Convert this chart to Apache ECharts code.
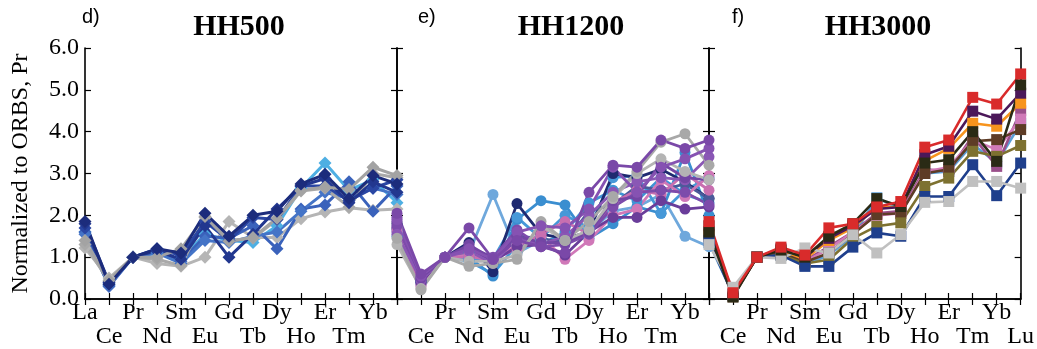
<!DOCTYPE html>
<html><head><meta charset="utf-8">
<script src="https://cdn.jsdelivr.net/npm/echarts@6/dist/echarts.min.js"></script>
<style>html,body{margin:0;padding:0;background:#fff}#c{width:1037px;height:349px}</style>
</head><body><div id="c"></div>
<script>
const categories = ['La','Ce','Pr','Nd','Sm','Eu','Gd','Tb','Dy','Ho','Er','Tm','Yb','Lu'];
const yTickValues = [0, 1, 2, 3, 4, 5, 6];
const panelTitles = ['HH500', 'HH1200', 'HH3000'];
const panelLetters = ['d)', 'e)', 'f)'];
const yAxisTitle = 'Normalized to ORBS, Pr';

// Panel d) HH500
const d_lightblue = [1.6,0.35,1,1.1,0.95,1.55,1.4,1.35,1.75,2.65,3.25,2.6,2.85,2.3];
const d_blue1 = [1.6,0.3,1,1.2,0.9,1.5,1.45,1.75,1.2,2.15,2.25,2.8,2.1,2.7];
const d_blue2 = [1.55,0.32,1,1.1,0.85,1.4,1.35,1.5,1.6,2.1,2.55,2.4,2.65,2.5];
const d_greyLow = [1.22,0.5,1,0.85,0.78,1.0,1.85,1.47,1.47,1.92,2.08,2.18,2.12,2.15];
const d_navy1 = [1.85,0.35,1,1.2,1.1,2.05,1.5,2.0,2.1,2.75,2.98,2.4,2.95,2.75];
const d_navy2 = [1.8,0.4,1,1.15,0.95,1.75,1.0,1.55,2.15,2.7,2.88,2.3,2.8,2.55];
const d_navy3 = [1.7,0.38,1,1.18,1.05,1.85,1.4,1.95,1.9,2.7,2.7,2.35,2.65,2.85];
const d_grey1 = [1.4,0.45,1,1.0,1.2,1.97,1.38,1.47,1.93,2.6,2.68,2.62,3.15,2.95];
const d_grey2 = [1.3,0.42,1,0.95,0.8,1.95,1.4,1.45,1.9,2.58,2.65,2.2,3.0,2.9];

// Panel e) HH1200
const e_purple1 = [2.05,0.6,1,1.7,0.95,1.4,1.25,1.1,2.55,3.2,3.15,3.8,3.6,3.8];
const e_lightblue = [1.6,0.4,1,1.1,2.5,1.1,1.4,1.4,1.6,2.1,2.2,2.5,1.5,1.25];
const e_navy = [1.8,0.45,1,1.35,0.65,2.28,1.55,1.45,1.6,3.0,2.9,3.1,2.8,2.4];
const e_blue1 = [1.7,0.4,1,1.0,0.55,1.9,2.35,2.25,1.45,1.8,2.2,2.05,3.5,2.0];
const e_blue2 = [1.65,0.42,1,0.95,0.95,1.95,1.45,2.0,1.7,2.9,2.95,2.05,2.6,2.9];
const e_blue3 = [1.5,0.35,1,0.9,0.6,1.3,1.3,1.6,2.3,2.6,2.35,2.9,2.5,2.3];
const e_grey1 = [1.45,0.22,1,0.78,0.85,0.95,1.85,1.4,1.85,2.45,3.05,3.75,3.95,3.2];
const e_grey2 = [1.3,0.25,1,0.9,0.9,1.05,1.75,1.4,1.65,2.4,3.0,3.35,3.05,2.85];
const e_purple2 = [1.9,0.55,1,1.2,0.95,1.6,1.75,1.7,2.15,3.15,2.55,3.15,3.35,3.6];
const e_pink1 = [1.62,0.35,1,1.05,0.9,1.3,1.5,0.95,1.4,2.0,2.15,2.85,2.45,2.95];
const e_pink2 = [1.7,0.3,1,1.0,0.95,1.2,1.55,1.85,1.55,2.3,2.6,2.5,3.0,2.6];
const e_purple3 = [1.85,0.4,1,1.2,0.9,1.25,1.3,1.05,1.6,1.95,1.95,2.35,2.15,2.2];
const e_purple4 = [1.75,0.5,1,1.25,1.0,1.65,1.25,1.3,1.55,2.2,2.55,2.6,2.55,2.25];
const e_slate = [1.7,0.4,1,1.1,0.9,1.5,1.45,1.35,2.1,2.25,2.7,2.6,2.75,2.4];
const e_purple5 = [1.55,0.45,1,1.15,0.85,1.45,1.3,1.5,2.0,2.55,2.8,2.9,2.85,3.4];
const e_purple6 = [1.95,0.5,1,1.3,0.95,1.5,1.35,1.35,1.6,2.35,2.45,3.25,2.9,2.85];

// Panel f) HH3000
const f_lightblue = [1.35,0.1,1,1.05,0.82,1.05,1.5,2.42,2.15,3.0,3.05,3.7,3.25,4.2];
const f_mauve = [1.6,0.1,1,1.1,0.92,1.25,1.6,2.05,2.1,3.1,3.05,3.9,3.17,4.5];
const f_pink = [1.5,0.1,1,1.1,0.9,1.2,1.6,2.0,2.05,3.05,3.15,3.8,3.57,4.3];
const f_orange = [1.75,0.12,1,1.15,0.95,1.4,1.7,2.2,2.2,3.3,3.6,4.2,4.13,4.68];
const f_purple = [1.75,0.12,1,1.2,1.0,1.45,1.75,2.15,2.2,3.45,3.65,4.49,4.3,4.92];
const f_brown = [1.55,0.05,1,1.1,0.88,1.1,1.55,2.02,2.05,3.0,3.1,3.77,3.81,4.05];
const f_olive = [1.5,0.1,1,1.05,0.85,0.94,1.45,1.74,1.82,2.69,2.89,3.53,3.41,3.67];
const f_navy = [1.4,0.1,1,1.05,0.78,0.78,1.24,1.58,1.5,2.45,2.45,3.21,2.47,3.25];
const f_grey = [1.3,0.28,1,0.97,1.22,1.1,1.54,1.1,1.54,2.31,2.33,2.81,2.81,2.65];
const f_dark = [1.6,0.05,1,1.17,1.0,1.5,1.8,2.4,2.21,3.25,3.33,4.0,3.29,5.12];
const f_red = [1.85,0.15,1,1.24,1.05,1.7,1.8,2.2,2.33,3.63,3.8,4.82,4.66,5.38];

const panels = [
  { symbol: 'diamond', size: 13, width: 3, series: [
    [d_lightblue, '#4eafe3'], [d_greyLow, '#b5b5b5'], [d_blue1, '#3a62bb'], [d_blue2, '#4474c7'],
    [d_grey2, '#a9a9a9'], [d_navy3, '#2a46a3'], [d_navy2, '#22378f'], [d_grey1, '#a3a3a3'], [d_navy1, '#1c2c7c']
  ]},
  { symbol: 'circle', size: 11, width: 2.8, series: [
    [e_lightblue, '#6fa8dc'], [e_blue1, '#3a8ed0'], [e_blue2, '#4698d8'], [e_blue3, '#3f93d5'],
    [e_navy, '#1f2a70'], [e_slate, '#4b5a9a'], [e_pink1, '#d078b8'], [e_pink2, '#c86fb0'],
    [e_purple3, '#6a3d9a'], [e_purple4, '#7d4bab'], [e_purple5, '#8a57b5'], [e_purple6, '#7346a4'],
    [e_grey2, '#b4b4b4'], [e_grey1, '#a8a8a8'], [e_purple2, '#8652b2'], [e_purple1, '#7a48a8']
  ]},
  { symbol: 'rect', size: 11, width: 2.6, series: [
    [f_lightblue, '#5a9fd8'], [f_mauve, '#9a4f8a'], [f_pink, '#d07ab8'], [f_orange, '#f7941d'],
    [f_purple, '#4b1859'], [f_brown, '#5e3c26'], [f_olive, '#7d7130'], [f_navy, '#1f3f8c'],
    [f_grey, '#c0c0c0'], [f_dark, '#2a2a15'], [f_red, '#d92b2b']
  ]}
];

const gridLeft = [85, 397, 709];
const gridW = 312, gridTop = 48, gridH = 251;
const serif = 'Liberation Serif';

const grids = [], xAxes = [], yAxes = [], series = [], graphics = [];
const lineStyleAxis = { color: '#000', width: 1.6 };

gridLeft.forEach((left, i) => {
  grids.push({ left: left, top: gridTop, width: gridW, height: gridH });
  const fmt = (v, idx) => {
    if (idx === 0 && i !== 0) return '';
    if (idx === categories.length - 1 && i !== 2) return '';
    return idx % 2 ? '\n' + v : v;
  };
  xAxes.push({ gridIndex: i, type: 'category', data: categories, boundaryGap: false, position: 'bottom',
    axisLine: { lineStyle: lineStyleAxis }, axisTick: { inside: true, length: 6, interval: 0, lineStyle: { color: '#000', width: 1.2 } },
    axisLabel: { interval: 0, formatter: fmt, fontFamily: serif, fontSize: 24, color: '#000', lineHeight: 24, margin: 2 },
    splitLine: { show: false } });
  xAxes.push({ gridIndex: i, type: 'category', data: categories, boundaryGap: false, position: 'top',
    axisLine: { lineStyle: lineStyleAxis }, axisTick: { inside: true, length: 6, interval: 0, lineStyle: { color: '#000', width: 1.2 } },
    axisLabel: { show: false }, splitLine: { show: false } });
  const yBase = { gridIndex: i, type: 'value', min: yTickValues[0], max: yTickValues[yTickValues.length - 1], interval: 1,
    axisLine: { show: true, lineStyle: lineStyleAxis }, axisTick: { show: true, inside: true, length: 6, lineStyle: { color: '#000', width: 1.2 } },
    splitLine: { show: false } };
  yAxes.push(Object.assign({}, yBase, { position: 'left',
    axisLabel: { show: i === 0, formatter: v => v.toFixed(1), fontFamily: serif, fontSize: 24, color: '#000', margin: 6 },
    name: i === 0 ? yAxisTitle : '', nameLocation: 'middle', nameGap: 52,
    nameTextStyle: { fontFamily: serif, fontSize: 24, color: '#000' } }));
  yAxes.push(Object.assign({}, yBase, { position: 'right', axisLabel: { show: false } }));

  const p = panels[i];
  p.series.forEach(([vals, color]) => {
    series.push({ type: 'line', xAxisIndex: 2 * i, yAxisIndex: 2 * i, data: vals, symbol: p.symbol, symbolSize: p.size,
      showAllSymbol: true, clip: false, itemStyle: { color: color }, lineStyle: { color: color, width: p.width },
      emphasis: { disabled: true } });
  });
});

const titleX = [239, 571, 878];
const letterX = [82, 418, 732];
titleX.forEach((x, i) => {
  graphics.push({ type: 'text', x: x, y: 27, style: { text: panelTitles[i], font: 'bold 30px "Liberation Serif"', fill: '#000', align: 'center', verticalAlign: 'middle' } });
  graphics.push({ type: 'text', x: letterX[i], y: 17, style: { text: panelLetters[i], font: '20px "Liberation Sans"', fill: '#000', align: 'left', verticalAlign: 'middle' } });
});

const chart = echarts.init(document.getElementById('c'), null, { renderer: 'canvas' });
chart.setOption({ animation: false, backgroundColor: '#fff', grid: grids, xAxis: xAxes, yAxis: yAxes, series: series, graphic: graphics });
</script></body></html>
